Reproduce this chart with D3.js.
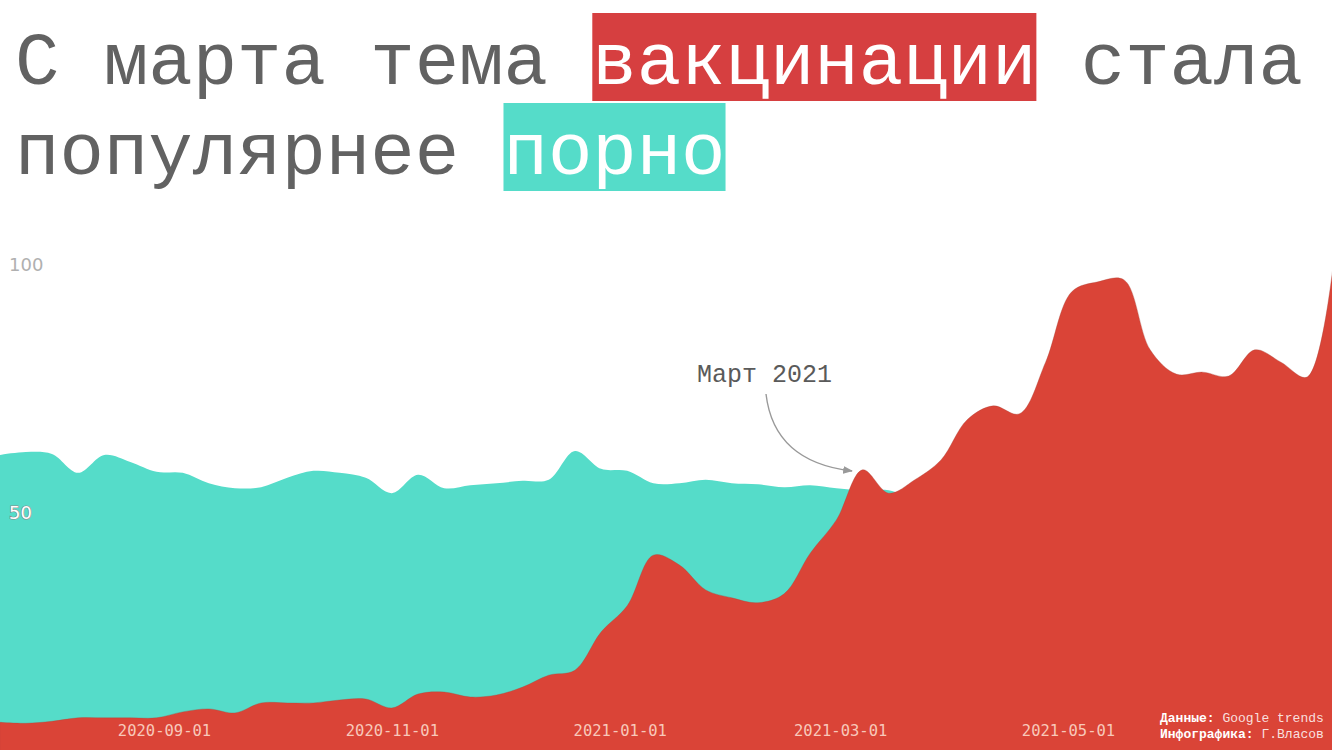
<!DOCTYPE html>
<html>
<head>
<meta charset="utf-8">
<script src="https://cdn.jsdelivr.net/npm/d3@7"></script>
<style>
  body { margin: 0; background: #fff; }
  svg { display: block; }
</style>
</head>
<body>
<svg id="chart"></svg>
<script>
// weekly google trends, Russia
var dates = ["2020-07-19","2020-07-26","2020-08-02","2020-08-09","2020-08-16","2020-08-23","2020-08-30",
  "2020-09-06","2020-09-13","2020-09-20","2020-09-27","2020-10-04","2020-10-11","2020-10-18","2020-10-25",
  "2020-11-01","2020-11-08","2020-11-15","2020-11-22","2020-11-29","2020-12-06","2020-12-13","2020-12-20",
  "2020-12-27","2021-01-03","2021-01-10","2021-01-17","2021-01-24","2021-01-31","2021-02-07","2021-02-14",
  "2021-02-21","2021-02-28","2021-03-07","2021-03-14","2021-03-21","2021-03-28","2021-04-04","2021-04-11",
  "2021-04-18","2021-04-25","2021-05-02","2021-05-09","2021-05-16","2021-05-23","2021-05-30","2021-06-06",
  "2021-06-13","2021-06-20","2021-06-27","2021-07-04","2021-07-11"]

var porn = [61.7, 62.3, 61.9, 58.1, 61.7, 60.3, 58.3, 58.1, 56, 55, 55.2, 57.1, 58.5, 58.1, 57.1,
  54, 57.7, 55, 55.6, 56, 56.5, 56.7, 62.5, 58.9, 58.5, 56, 56, 56.7, 56, 55.8, 55.2,
  55.6, 55, 54.6, 54.6, 53, 54, 55, 53, 54, 52, 53, 52, 51, 53, 52, 51, 52, 51, 50, 51, 50]

var vaccine = [7.8, 7.6, 8.0, 8.7, 8.7, 8.7, 8.7, 9.9, 10.5, 9.7, 11.7, 11.7, 11.7, 12.3, 12.5,
  10.7, 13.5, 13.9, 12.9, 13.3, 14.9, 17.3, 18.3, 26, 31.3, 41.5, 39.5, 34.5, 32.9, 31.9, 33.7,
  41.9, 48.6, 58.7, 54, 56.7, 60.7, 68.8, 71.6, 70, 80.4, 94.6, 96.6, 97, 82.9, 78, 78.4,
  77.6, 82.9, 80.4, 77.4, 100]

var xTicks = ["2020-09-01", "2020-11-01", "2021-01-01", "2021-03-01", "2021-05-01"]
var yTicks = [50, 100]

var width = 1332, height = 750
var parse = d3.timeParse("%Y-%m-%d")

var svg = d3.select("#chart")
  .attr("width", width)
  .attr("height", height)

var x = d3.scaleTime()
  .domain([parse("2020-09-01"), parse("2021-05-01")])
  .range([164, 1068])

var y = d3.scaleLinear()
  .domain([0, 100])
  .range([761, 265])

var rows = dates.map((d, i) => ({ date: parse(d), porn: porn[i], vaccine: vaccine[i] }))

var areaOf = key => d3.area()
  .curve(d3.curveCatmullRom.alpha(0.5))
  .x(d => x(d.date))
  .y0(y(0))
  .y1(d => y(d[key]))

svg.append("path")
  .datum(rows)
  .attr("fill", "#55dcc9")
  .attr("d", areaOf("porn"))

svg.append("path")
  .datum(rows)
  .attr("fill", "#da4437")
  .attr("stroke", "#a8463c")
  .attr("stroke-opacity", 0.45)
  .attr("stroke-width", 0.8)
  .attr("d", areaOf("vaccine"))

// x axis, labels sit inside the red area
var xAxis = svg.append("g")
  .attr("transform", "translate(0,725)")
  .call(d3.axisBottom(x)
    .tickValues(xTicks.map(parse))
    .tickFormat(d3.timeFormat("%Y-%m-%d"))
    .tickSize(0)
    .tickPadding(0))
xAxis.select(".domain").remove()
xAxis.selectAll("text")
  .attr("dy", "0.71em")
  .attr("font-family", "DejaVu Sans Mono")
  .attr("font-size", 15.5)
  .attr("fill", "#f8c8ba")

// y axis
var yAxis = svg.append("g")
  .attr("transform", "translate(9,0)")
  .call(d3.axisRight(y).tickValues(yTicks).tickSize(0).tickPadding(0))
yAxis.select(".domain").remove()
yAxis.selectAll("text")
  .attr("font-family", "DejaVu Sans")
  .attr("font-size", 18)
  .attr("fill", d => d == 100 ? "#b0b0b0" : "#fff")
  .attr("stroke", d => d == 100 ? "none" : "#8a8a8a")
  .attr("stroke-width", 1.2)
  .attr("paint-order", "stroke")

// title
var titleLines = [
  [{ t: "С марта тема " }, { t: "вакцинации", bg: "#d63f40" }, { t: " стала" }],
  [{ t: "популярнее " }, { t: "порно", bg: "#55dcc9" }]
]
var titleSize = 74
var title = svg.append("g")
titleLines.forEach((parts, li) => {
  var base = 84 + li * 90
  var cx = 15
  parts.forEach(p => {
    var txt = title.append("text")
      .attr("x", cx)
      .attr("y", base)
      .attr("font-family", "Liberation Mono, Courier New, monospace")
      .attr("font-size", titleSize)
      .attr("xml:space", "preserve")
      .style("white-space", "pre")
      .attr("fill", p.bg ? "#fff" : "#626262")
      .text(p.t)
    var w = txt.node().getComputedTextLength()
    if (p.bg) {
      title.insert("rect", "text")
        .attr("x", cx)
        .attr("y", base - 71)
        .attr("width", w)
        .attr("height", 88)
        .attr("fill", p.bg)
    }
    cx += w
  })
})

// annotation
svg.append("defs").append("marker")
  .attr("id", "arrow")
  .attr("viewBox", "0 0 10 10")
  .attr("refX", 9).attr("refY", 5)
  .attr("markerWidth", 7).attr("markerHeight", 7)
  .attr("orient", "auto")
  .append("path")
  .attr("d", "M0,1 L10,5 L0,9 Z")
  .attr("fill", "#999")

svg.append("text")
  .attr("x", 697)
  .attr("y", 382)
  .attr("font-family", "Liberation Mono, Courier New, monospace")
  .attr("font-size", 25)
  .attr("fill", "#5a5a5a")
  .text("Март 2021")

svg.append("path")
  .attr("d", "M766,394 Q774,462 852,471")
  .attr("fill", "none")
  .attr("stroke", "#999")
  .attr("stroke-width", 1.4)
  .attr("marker-end", "url(#arrow)")

// credits
var credits = [["Данные:", " Google trends"], ["Инфографика:", " Г.Власов"]]
credits.forEach((c, i) => {
  var t = svg.append("text")
    .attr("x", 1160)
    .attr("y", 722 + i * 16)
    .attr("font-family", "Liberation Mono, Courier New, monospace")
    .attr("font-size", 13)
    .attr("fill", "#fff")
    .attr("xml:space", "preserve")
    .style("white-space", "pre")
  t.append("tspan").attr("font-weight", "bold").text(c[0])
  t.append("tspan").attr("fill-opacity", 0.85).text(c[1])
})
</script>
</body>
</html>
